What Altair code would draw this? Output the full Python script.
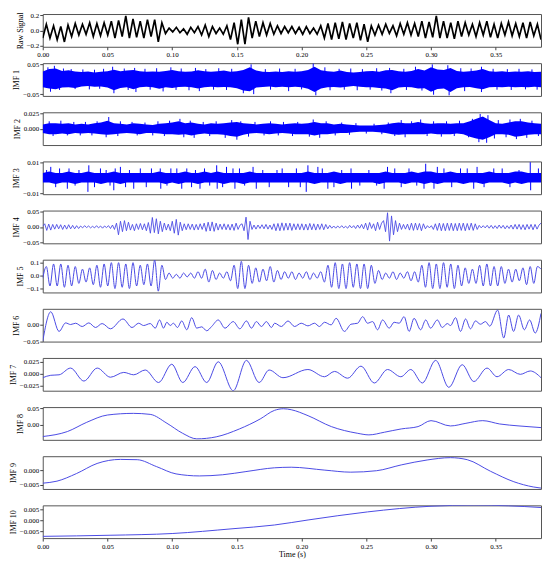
import altair as alt
import pandas as pd

T_END = 0.385
FONT = "Liberation Serif"
X_TICKS = [0.0, 0.05, 0.10, 0.15, 0.20, 0.25, 0.30, 0.35]

# ---------------- Raw signal (successive extrema on a uniform time grid) ----------------
raw_signal = [
    -0.10, 0.08, -0.10, 0.06, -0.12, 0.05, -0.15, 0.07, -0.08, 0.09,
    -0.06, 0.08, -0.05, 0.10, -0.08, 0.09, -0.07, 0.10, -0.06, 0.12,
    -0.10, 0.13, -0.08, 0.19, -0.10, 0.15, -0.09, 0.12, -0.10, 0.14,
    -0.08, 0.14, -0.15, 0.10, -0.04, 0.03, -0.02, 0.04, -0.03, 0.02,
    -0.05, 0.04, -0.03, 0.05, -0.06, 0.07, -0.08, 0.05, -0.04, 0.03,
    -0.05, 0.06, -0.12, 0.10, -0.18, 0.14, -0.18, 0.17, -0.10, 0.12,
    -0.08, 0.10, -0.06, 0.09, -0.05, 0.06, -0.04, 0.05, -0.03, 0.05,
    -0.04, 0.04, -0.05, 0.05, -0.04, 0.03, -0.05, 0.06, -0.10, 0.09,
    -0.12, 0.10, -0.11, 0.11, -0.12, 0.09, -0.10, 0.10, -0.13, 0.08,
    -0.15, 0.06, -0.06, 0.07, -0.05, 0.08, -0.04, 0.06, -0.07, 0.09,
    -0.05, 0.10, -0.06, 0.09, -0.08, 0.12, -0.10, 0.11, -0.09, 0.19,
    -0.10, 0.12, -0.10, 0.10, -0.11, 0.12, -0.08, 0.10, -0.06, 0.08,
    -0.08, 0.10, -0.06, 0.12, -0.09, 0.08, -0.10, 0.09, -0.06, 0.11,
    -0.07, 0.09, -0.08, 0.10, -0.10, 0.11, -0.07, 0.08, -0.12,
]

# ---------------- IMF 1 (envelope of the dense oscillation + protruding peaks) ----------------
imf1_upper = [
    0.026, 0.034, 0.036, 0.028, 0.030, 0.026, 0.024, 0.026, 0.023, 0.025,
    0.027, 0.032, 0.027, 0.029, 0.031, 0.027, 0.025, 0.026, 0.025, 0.028,
    0.031, 0.027, 0.025, 0.026, 0.030, 0.027, 0.025, 0.027, 0.029, 0.025,
    0.027, 0.031, 0.040, 0.029, 0.025, 0.024, 0.026, 0.024, 0.027, 0.025,
    0.027, 0.031, 0.042, 0.030, 0.027, 0.025, 0.029, 0.024, 0.023, 0.024,
    0.027, 0.028, 0.025, 0.030, 0.031, 0.027, 0.025, 0.028, 0.034, 0.029,
    0.040, 0.033, 0.031, 0.038, 0.028, 0.025, 0.027, 0.029, 0.034, 0.027,
    0.025, 0.027, 0.024, 0.026, 0.025, 0.027, 0.024, 0.025,
]
imf1_lower = [
    -0.027, -0.031, -0.034, -0.028, -0.027, -0.029, -0.024, -0.023, -0.025, -0.024,
    -0.028, -0.037, -0.029, -0.027, -0.034, -0.027, -0.025, -0.027, -0.032, -0.027,
    -0.029, -0.026, -0.025, -0.027, -0.031, -0.027, -0.025, -0.027, -0.026, -0.027,
    -0.030, -0.038, -0.040, -0.028, -0.026, -0.024, -0.027, -0.025, -0.027, -0.025,
    -0.027, -0.032, -0.043, -0.031, -0.027, -0.026, -0.028, -0.025, -0.023, -0.025,
    -0.027, -0.027, -0.029, -0.031, -0.037, -0.028, -0.026, -0.027, -0.031, -0.030,
    -0.042, -0.033, -0.031, -0.043, -0.030, -0.027, -0.026, -0.030, -0.034, -0.027,
    -0.026, -0.027, -0.025, -0.027, -0.026, -0.027, -0.025, -0.027,
]
imf1_peak_t = [
    0.004, 0.009, 0.016, 0.022, 0.031, 0.040, 0.047, 0.054, 0.063, 0.071,
    0.079, 0.088, 0.099, 0.107, 0.118, 0.126, 0.136, 0.146, 0.161, 0.172,
    0.183, 0.195, 0.209, 0.218, 0.229, 0.238, 0.247, 0.258, 0.268, 0.279,
    0.288, 0.301, 0.313, 0.323, 0.331, 0.339, 0.348, 0.359, 0.368, 0.378,
    0.006, 0.013, 0.025, 0.036, 0.044, 0.055, 0.066, 0.072, 0.083, 0.093,
    0.103, 0.113, 0.121, 0.132, 0.142, 0.155, 0.163, 0.176, 0.190, 0.200,
    0.211, 0.222, 0.233, 0.243, 0.253, 0.262, 0.269, 0.281, 0.293, 0.302,
    0.314, 0.326, 0.339, 0.351, 0.362, 0.373, 0.382,
]
imf1_peak_v = [
    0.040, 0.045, 0.036, 0.034, 0.033, 0.032, 0.035, 0.042, 0.036, 0.038,
    0.035, 0.037, 0.040, 0.036, 0.038, 0.034, 0.037, 0.035, 0.050, 0.034,
    0.036, 0.035, 0.053, 0.040, 0.035, 0.036, 0.034, 0.037, 0.038, 0.035,
    0.042, 0.050, 0.047, 0.037, 0.036, 0.042, 0.035, 0.034, 0.035, 0.033,
    -0.042, -0.036, -0.033, -0.034, -0.032, -0.047, -0.036, -0.043, -0.035, -0.041,
    -0.036, -0.037, -0.040, -0.035, -0.036, -0.047, -0.050, -0.035, -0.040, -0.034,
    -0.054, -0.037, -0.035, -0.037, -0.035, -0.038, -0.047, -0.036, -0.038, -0.052,
    -0.054, -0.040, -0.043, -0.035, -0.036, -0.034, -0.035,
]

# ---------------- IMF 2 ----------------
imf2_upper = [
    0.007, 0.009, 0.009, 0.008, 0.009, 0.007, 0.008, 0.007, 0.009, 0.010,
    0.013, 0.009, 0.008, 0.007, 0.009, 0.008, 0.007, 0.006, 0.008, 0.009,
    0.010, 0.012, 0.009, 0.010, 0.008, 0.007, 0.009, 0.008, 0.009, 0.010,
    0.011, 0.009, 0.008, 0.007, 0.008, 0.009, 0.008, 0.007, 0.008, 0.009,
    0.008, 0.009, 0.011, 0.009, 0.009, 0.007, 0.008, 0.007, 0.006, 0.005,
    0.005, 0.005, 0.006, 0.007, 0.009, 0.010, 0.009, 0.009, 0.011, 0.009,
    0.008, 0.009, 0.009, 0.008, 0.009, 0.009, 0.012, 0.016, 0.020, 0.014,
    0.009, 0.008, 0.010, 0.012, 0.012, 0.010, 0.009, 0.008,
]
imf2_lower = [
    -0.007, -0.009, -0.009, -0.008, -0.009, -0.007, -0.008, -0.007, -0.008, -0.009,
    -0.010, -0.009, -0.008, -0.007, -0.008, -0.009, -0.007, -0.007, -0.008, -0.009,
    -0.009, -0.010, -0.009, -0.011, -0.009, -0.008, -0.009, -0.009, -0.010, -0.012,
    -0.013, -0.010, -0.008, -0.007, -0.008, -0.009, -0.008, -0.007, -0.008, -0.009,
    -0.009, -0.009, -0.011, -0.009, -0.009, -0.008, -0.007, -0.007, -0.006, -0.005,
    -0.005, -0.005, -0.006, -0.007, -0.009, -0.010, -0.009, -0.009, -0.009, -0.009,
    -0.008, -0.009, -0.009, -0.009, -0.008, -0.009, -0.013, -0.016, -0.018, -0.014,
    -0.009, -0.009, -0.010, -0.013, -0.012, -0.010, -0.009, -0.009,
]
imf2_peak_t = [
    0.005, 0.014, 0.024, 0.033, 0.042, 0.051, 0.060, 0.069, 0.079, 0.089,
    0.098, 0.106, 0.114, 0.124, 0.134, 0.146, 0.153, 0.164, 0.176, 0.186,
    0.197, 0.209, 0.219, 0.231, 0.242, 0.256, 0.267, 0.277, 0.285, 0.292,
    0.302, 0.312, 0.322, 0.332, 0.338, 0.344, 0.352, 0.361, 0.369, 0.378,
    0.008, 0.019, 0.029, 0.038, 0.049, 0.058, 0.073, 0.085, 0.094, 0.109,
    0.117, 0.129, 0.141, 0.150, 0.159, 0.171, 0.182, 0.193, 0.206, 0.214,
    0.226, 0.237, 0.250, 0.262, 0.272, 0.280, 0.297, 0.308, 0.318, 0.329,
    0.337, 0.343, 0.349, 0.358, 0.366, 0.374, 0.383,
]
imf2_peak_v = [
    0.012, 0.013, 0.011, 0.011, 0.012, 0.019, 0.012, 0.011, 0.010, 0.012,
    0.013, 0.016, 0.013, 0.011, 0.012, 0.014, 0.012, 0.011, 0.012, 0.011,
    0.011, 0.015, 0.012, 0.010, 0.009, 0.008, 0.010, 0.014, 0.012, 0.015,
    0.012, 0.012, 0.013, 0.016, 0.024, 0.022, 0.014, 0.015, 0.016, 0.013,
    -0.012, -0.011, -0.011, -0.011, -0.014, -0.012, -0.011, -0.011, -0.012, -0.014,
    -0.015, -0.012, -0.015, -0.018, -0.013, -0.011, -0.011, -0.012, -0.013, -0.015,
    -0.011, -0.010, -0.008, -0.009, -0.012, -0.014, -0.012, -0.013, -0.012, -0.014,
    -0.022, -0.023, -0.016, -0.014, -0.017, -0.015, -0.012,
]

# ---------------- IMF 3 (core band + isolated spikes) ----------------
imf3_upper = [
    0.003, 0.004, 0.003, 0.003, 0.004, 0.003, 0.003, 0.004, 0.003, 0.003,
    0.003, 0.004, 0.003, 0.003, 0.003, 0.003, 0.003, 0.003, 0.004, 0.003,
    0.003, 0.003, 0.004, 0.003, 0.003, 0.004, 0.003, 0.004, 0.003, 0.003,
    0.003, 0.003, 0.004, 0.003, 0.003, 0.003, 0.003, 0.003, 0.003, 0.003,
    0.003, 0.004, 0.003, 0.003, 0.003, 0.004, 0.003, 0.003, 0.003, 0.003,
    0.003, 0.003, 0.003, 0.004, 0.003, 0.003, 0.003, 0.004, 0.003, 0.004,
    0.004, 0.003, 0.003, 0.004, 0.003, 0.003, 0.003, 0.003, 0.003, 0.004,
    0.003, 0.003, 0.003, 0.004, 0.004, 0.003, 0.003, 0.003,
]
imf3_lower = [
    -0.003, -0.003, -0.004, -0.003, -0.003, -0.004, -0.003, -0.003, -0.003, -0.004,
    -0.003, -0.003, -0.004, -0.003, -0.003, -0.003, -0.003, -0.003, -0.003, -0.004,
    -0.003, -0.004, -0.003, -0.003, -0.004, -0.003, -0.003, -0.003, -0.004, -0.003,
    -0.003, -0.004, -0.003, -0.003, -0.003, -0.003, -0.003, -0.003, -0.003, -0.003,
    -0.003, -0.003, -0.004, -0.003, -0.003, -0.003, -0.004, -0.003, -0.003, -0.003,
    -0.003, -0.003, -0.004, -0.003, -0.003, -0.003, -0.004, -0.003, -0.003, -0.004,
    -0.003, -0.004, -0.003, -0.003, -0.003, -0.004, -0.003, -0.003, -0.004, -0.003,
    -0.003, -0.003, -0.004, -0.003, -0.004, -0.003, -0.003, -0.003,
]
imf3_spike_t = [
    0.0062, 0.0190, 0.0203, 0.0349, 0.0356, 0.0446, 0.0549, 0.0560, 0.0600, 0.0703,
    0.0754, 0.0908, 0.0912, 0.1036, 0.1074, 0.1113, 0.1215, 0.1344, 0.1348, 0.1420,
    0.1470, 0.1485, 0.1625, 0.1650, 0.1850, 0.1900, 0.2036, 0.2049, 0.2126, 0.2203,
    0.2382, 0.2386, 0.2638, 0.2664, 0.2946, 0.2959, 0.3023, 0.3049, 0.3228, 0.3330,
    0.3356, 0.3485, 0.3767, 0.3770,
    0.003, 0.010, 0.013, 0.025, 0.028, 0.040, 0.049, 0.052, 0.064, 0.067,
    0.080, 0.084, 0.096, 0.099, 0.115, 0.118, 0.125, 0.129, 0.139, 0.152,
    0.156, 0.170, 0.175, 0.181, 0.196, 0.199, 0.216, 0.225, 0.231, 0.245,
    0.252, 0.258, 0.272, 0.277, 0.283, 0.289, 0.310, 0.316, 0.328, 0.341,
    0.355, 0.361, 0.368, 0.383,
]
imf3_spike_v = [
    0.007, -0.007, 0.006, -0.009, 0.008, 0.006, -0.008, 0.006, 0.007, -0.007,
    0.006, 0.006, -0.007, 0.006, -0.007, 0.006, -0.007, 0.008, -0.007, 0.007,
    0.006, -0.007, 0.007, -0.007, 0.006, -0.006, -0.009, 0.008, 0.007, -0.007,
    0.006, -0.007, -0.007, 0.007, -0.007, 0.009, -0.007, 0.007, 0.006, -0.007,
    0.007, 0.006, 0.010, -0.008,
    0.005, -0.006, 0.006, -0.005, 0.005, -0.006, 0.005, -0.005, -0.006, 0.005,
    -0.006, 0.006, -0.005, 0.006, -0.006, 0.005, 0.006, -0.005, -0.006, 0.006,
    -0.005, 0.005, -0.006, 0.005, 0.006, -0.006, 0.006, -0.006, 0.005, -0.005,
    0.005, -0.005, 0.006, -0.006, 0.006, -0.005, 0.006, -0.006, 0.006, -0.006,
    0.006, -0.006, 0.005, 0.006,
]

# ---------------- IMF 4 (successive extrema on a uniform time grid) ----------------
imf4 = [
    0.002, 0.010, -0.011, 0.009, -0.010, 0.008, -0.007, 0.008, -0.006, 0.007,
    -0.008, 0.006, -0.007, 0.007, -0.006, 0.005, -0.006, 0.004, -0.005, 0.003,
    -0.003, 0.004, -0.002, 0.003, -0.003, 0.002, -0.003, 0.004, -0.003, 0.003,
    -0.004, 0.003, -0.002, 0.004, -0.005, 0.006, -0.008, 0.012, -0.025, 0.018,
    -0.015, 0.020, -0.012, 0.015, -0.010, 0.008, -0.012, 0.010, -0.008, 0.011,
    -0.009, 0.010, -0.012, 0.014, -0.020, 0.030, -0.018, 0.026, -0.022, 0.018,
    -0.015, 0.012, -0.010, 0.009, -0.012, 0.018, -0.020, 0.024, -0.026, 0.015,
    -0.012, 0.010, -0.009, 0.010, -0.008, 0.009, -0.010, 0.008, -0.009, 0.010,
    -0.008, 0.012, -0.014, 0.015, -0.013, 0.016, -0.014, 0.012, -0.010, 0.009,
    -0.008, 0.010, -0.009, 0.008, -0.010, 0.009, -0.011, 0.012, -0.008, 0.006,
    0.010, -0.012, 0.031, -0.040, 0.018, -0.008, 0.006, -0.007, 0.006, -0.005,
    0.007, -0.006, 0.008, -0.007, 0.006, -0.008, 0.010, -0.012, 0.011, -0.012,
    0.013, -0.011, 0.012, -0.010, 0.012, -0.011, 0.010, -0.009, 0.010, -0.009,
    0.010, -0.010, 0.009, -0.010, 0.011, -0.009, 0.010, -0.010, 0.009, -0.008,
    0.010, -0.009, 0.008, -0.006, 0.005, -0.004, 0.003, -0.004, 0.003, -0.003,
    0.004, -0.003, 0.002, -0.004, 0.005, -0.003, 0.004, -0.005, 0.006, -0.004,
    0.008, -0.006, 0.012, -0.010, 0.014, -0.005, 0.010, -0.012, 0.015, -0.008,
    0.012, 0.020, -0.015, 0.045, -0.045, 0.035, -0.025, 0.020, -0.015, 0.012,
    -0.008, 0.008, -0.007, 0.009, -0.010, 0.012, -0.011, 0.012, -0.010, 0.011,
    -0.012, 0.010, -0.006, 0.004, -0.003, 0.004, -0.008, 0.010, -0.011, 0.012,
    -0.012, 0.011, -0.012, 0.012, -0.011, 0.012, -0.012, 0.011, -0.012, 0.012,
    -0.011, 0.012, -0.012, 0.011, -0.010, 0.012, -0.011, 0.010, -0.008, 0.005,
    -0.003, 0.004, -0.003, 0.005, -0.004, 0.005, -0.005, 0.004, -0.005, 0.006,
    -0.004, 0.005, -0.006, 0.004, -0.005, 0.006, -0.007, 0.008, -0.007, 0.008,
    -0.008, 0.007, -0.009, 0.008, -0.007, 0.008, -0.009, 0.008, -0.007, 0.006,
    0.012,
]

# ---------------- IMF 5 (successive extrema on a uniform time grid) ----------------
imf5 = [
    -0.02, 0.07, -0.08, 0.09, -0.08, 0.09, -0.09, 0.08, -0.08, 0.07,
    -0.06, 0.05, -0.05, 0.06, -0.07, 0.08, -0.09, 0.09, -0.08, 0.10,
    -0.10, 0.10, -0.09, 0.09, -0.10, 0.10, -0.08, 0.08, -0.07, 0.09,
    -0.08, 0.12, -0.12, 0.08, -0.03, 0.02, -0.02, 0.01, -0.02, 0.02,
    -0.01, 0.02, -0.02, 0.03, -0.02, 0.05, -0.05, 0.04, -0.03, 0.02,
    -0.02, 0.03, -0.04, 0.08, -0.10, 0.11, -0.10, 0.08, -0.06, 0.06,
    -0.05, 0.05, -0.04, 0.07, -0.05, 0.04, -0.03, 0.03, -0.02, 0.03,
    -0.03, 0.02, -0.02, 0.03, -0.03, 0.02, -0.02, 0.03, -0.05, 0.08,
    -0.09, 0.10, -0.10, 0.09, -0.10, 0.10, -0.09, 0.09, -0.10, 0.09,
    -0.10, 0.08, -0.06, 0.04, -0.03, 0.02, -0.02, 0.03, -0.03, 0.02,
    -0.02, 0.03, -0.04, 0.03, -0.05, 0.08, -0.09, 0.10, -0.10, 0.09,
    -0.10, 0.10, -0.09, 0.09, -0.10, 0.08, -0.08, 0.06, -0.06, 0.05,
    -0.06, 0.08, -0.08, 0.09, -0.08, 0.07, -0.08, 0.07, -0.06, 0.05,
    -0.05, 0.05, -0.04, 0.06, -0.07, 0.07, -0.06, 0.07, 0.05,
]

# ---------------- IMF 6 ----------------
imf6_t = [
    0.0000, 0.0062, 0.0126, 0.0177, 0.0215, 0.0254, 0.0305, 0.0356, 0.0408, 0.0459,
    0.0523, 0.0620, 0.0690, 0.0741, 0.0779, 0.0831, 0.0869, 0.0903, 0.0933, 0.0959,
    0.0985, 0.1010, 0.1041, 0.1074, 0.1113, 0.1151, 0.1190, 0.1228, 0.1267, 0.1305,
    0.1356, 0.1408, 0.1472, 0.1523, 0.1574, 0.1613, 0.1651, 0.1690, 0.1728, 0.1767,
    0.1792, 0.1844, 0.1895, 0.1946, 0.1997, 0.2049, 0.2100, 0.2138, 0.2177, 0.2228,
    0.2267, 0.2331, 0.2382, 0.2433, 0.2472, 0.2510, 0.2549, 0.2587, 0.2626, 0.2677,
    0.2715, 0.2754, 0.2792, 0.2831, 0.2869, 0.2920, 0.2959, 0.2997, 0.3049, 0.3087,
    0.3126, 0.3151, 0.3190, 0.3228, 0.3267, 0.3305, 0.3344, 0.3382, 0.3421, 0.3454,
    0.3515, 0.3562, 0.3600, 0.3638, 0.3677, 0.3721, 0.3762, 0.3805, 0.3850,
]
imf6_v = [
    -0.050, 0.040, -0.020, 0.006, 0.001, 0.005, -0.005, 0.006, -0.008, 0.004,
    -0.012, 0.018, -0.008, 0.005, -0.002, 0.004, -0.010, 0.015, -0.010, 0.008,
    -0.002, 0.005, -0.008, 0.012, -0.015, 0.022, -0.010, -0.006, -0.018, -0.005,
    0.015, -0.010, 0.010, -0.012, 0.012, -0.010, 0.010, -0.005, 0.010, -0.008,
    0.005, -0.005, 0.012, -0.005, 0.005, -0.003, 0.005, -0.005, 0.008, 0.000,
    0.020, -0.020, 0.002, 0.005, 0.025, 0.005, 0.010, -0.015, 0.015, -0.010,
    0.008, 0.005, 0.025, -0.020, 0.020, -0.015, 0.015, -0.010, 0.015, -0.008,
    0.004, -0.002, 0.022, -0.020, 0.018, -0.012, 0.012, 0.002, 0.010, -0.004,
    0.045, -0.040, 0.030, -0.020, 0.030, -0.015, 0.015, -0.025, 0.035,
]

# ---------------- IMF 7 ----------------
imf7_t = [
    0.0000, 0.0062, 0.0126, 0.0215, 0.0318, 0.0421, 0.0523, 0.0626, 0.0703, 0.0792,
    0.0895, 0.0997, 0.1082, 0.1177, 0.1267, 0.1356, 0.1472, 0.1574, 0.1672, 0.1749,
    0.1856, 0.2049, 0.2177, 0.2254, 0.2356, 0.2459, 0.2562, 0.2664, 0.2767, 0.2844,
    0.2933, 0.3036, 0.3138, 0.3241, 0.3331, 0.3433, 0.3510, 0.3600, 0.3690, 0.3767,
    0.3850,
]
imf7_v = [
    -0.008, -0.003, -0.002, 0.012, -0.015, 0.012, -0.007, 0.003, -0.002, 0.008,
    -0.018, 0.020, -0.018, 0.015, -0.018, 0.025, -0.035, 0.028, -0.018, 0.008,
    -0.008, 0.009, -0.006, 0.005, -0.009, 0.016, -0.019, 0.009, -0.006, 0.009,
    -0.019, 0.028, -0.028, 0.019, -0.016, 0.012, -0.006, 0.009, -0.001, 0.006,
    -0.008,
]

# ---------------- IMF 8 ----------------
imf8_t = [0.000, 0.019, 0.034, 0.050, 0.070, 0.083, 0.096, 0.108, 0.119, 0.134,
          0.152, 0.168, 0.179, 0.186, 0.192, 0.205, 0.223, 0.243, 0.252, 0.264,
          0.277, 0.290, 0.300, 0.315, 0.327, 0.340, 0.353, 0.368, 0.385]
imf8_v = [-0.035, -0.020, 0.008, 0.030, 0.035, 0.032, 0.005, -0.025, -0.042, -0.036,
          -0.012, 0.018, 0.044, 0.049, 0.046, 0.028, -0.005, -0.025, -0.030, -0.022,
          -0.012, -0.005, 0.013, -0.003, 0.005, 0.013, 0.003, -0.003, -0.008]

# ---------------- IMF 9 ----------------
imf9_t = [0.000, 0.011, 0.026, 0.042, 0.060, 0.073, 0.088, 0.103, 0.121, 0.139,
          0.157, 0.179, 0.192, 0.218, 0.238, 0.258, 0.277, 0.297, 0.315, 0.328,
          0.346, 0.364, 0.379, 0.385]
imf9_v = [-0.0045, -0.0038, -0.0012, 0.0023, 0.0037, 0.0036, 0.0012, -0.0013, -0.0020, -0.0016,
          -0.0005, 0.0008, 0.0010, 0.0000, -0.0007, -0.0002, 0.0018, 0.0035, 0.0043, 0.0036,
          -0.0004, -0.0040, -0.0058, -0.0062]

# ---------------- IMF 10 ----------------
imf10_t = [0.000, 0.052, 0.100, 0.147, 0.179, 0.205, 0.251, 0.300, 0.333, 0.360, 0.385]
imf10_v = [-0.0072, -0.0067, -0.0059, -0.0037, -0.0020, 0.0003, 0.0040, 0.0066, 0.0071, 0.0068, 0.0060]


def grid(n):
    return [T_END * i / (n - 1) for i in range(n)]


W = 502
H = 33
BLUE = "#0000ff"
LINE_BLUE = "#4b4be4"


def x_enc(show, title=None):
    scale = alt.Scale(domain=[0, T_END], nice=False, zero=False)
    if show:
        return alt.X("t:Q", scale=scale, title=title,
                     axis=alt.Axis(values=X_TICKS, format=".2f"))
    return alt.X("t:Q", scale=scale, axis=None)


def y_scale(dom):
    return alt.Scale(domain=dom, nice=False, zero=False)


def y_axis(name, ticks, fmt):
    return alt.Axis(values=ticks, format=fmt, title=name)


def line_panel(t, v, name, dom, ticks, fmt, color, width, interp="linear",
               show_x=False, xtitle=None):
    df = pd.DataFrame({"t": t, "v": v})
    return alt.Chart(df).mark_line(
        color=color, strokeWidth=width, interpolate=interp, clip=True
    ).encode(
        x=x_enc(show_x, xtitle),
        y=alt.Y("v:Q", scale=y_scale(dom), axis=y_axis(name, ticks, fmt)),
    ).properties(width=W, height=H)


def band_panel(upper, lower, name, dom, ticks, fmt, spikes):
    df = pd.DataFrame({"t": grid(len(upper)), "hi": upper, "lo": lower})
    band = alt.Chart(df).mark_area(color=BLUE, opacity=1, clip=True).encode(
        x=x_enc(False),
        y=alt.Y("hi:Q", scale=y_scale(dom), axis=y_axis(name, ticks, fmt)),
        y2="lo:Q",
    )
    sdf = pd.DataFrame({"t": spikes[0], "v": spikes[1]})
    rule = alt.Chart(sdf).mark_rule(color=BLUE, strokeWidth=1.0, clip=True).encode(
        x=x_enc(False),
        y=alt.Y("v:Q", scale=y_scale(dom)),
        y2=alt.datum(0),
    )
    return alt.layer(band, rule).properties(width=W, height=H)


panels = [
    line_panel(grid(len(raw_signal)), raw_signal, "Raw Signal", [-0.213, 0.213],
               [-0.2, 0.0, 0.2], ".1f", "black", 1.7, show_x=True),
    band_panel(imf1_upper, imf1_lower, "IMF 1", [-0.056, 0.054], [-0.05, 0.0, 0.05], ".2f",
               (imf1_peak_t, imf1_peak_v)),
    band_panel(imf2_upper, imf2_lower, "IMF 2", [-0.0267, 0.0267], [0.0, 0.025], ".3f",
               (imf2_peak_t, imf2_peak_v)),
    band_panel(imf3_upper, imf3_lower, "IMF 3", [-0.0105, 0.0105], [-0.01, 0.0, 0.01], ".2f",
               (imf3_spike_t, imf3_spike_v)),
    line_panel(grid(len(imf4)), imf4, "IMF 4", [-0.052, 0.052],
               [-0.05, 0.0, 0.05], ".2f", LINE_BLUE, 0.9),
    line_panel(grid(len(imf5)), imf5, "IMF 5", [-0.13, 0.123],
               [-0.1, 0.0, 0.1], ".1f", LINE_BLUE, 1.0, interp="monotone"),
    line_panel(imf6_t, imf6_v, "IMF 6", [-0.051, 0.049],
               [-0.05, 0.0], ".2f", LINE_BLUE, 1.0, interp="monotone"),
    line_panel(imf7_t, imf7_v, "IMF 7", [-0.035, 0.033],
               [-0.025, 0.0, 0.025], ".3f", LINE_BLUE, 1.0, interp="monotone"),
    line_panel(imf8_t, imf8_v, "IMF 8", [-0.045, 0.054],
               [0.0, 0.05], ".2f", LINE_BLUE, 1.0, interp="monotone"),
    line_panel(imf9_t, imf9_v, "IMF 9", [-0.0065, 0.0048],
               [-0.005, 0.0], ".3f", LINE_BLUE, 1.0, interp="monotone"),
    line_panel(imf10_t, imf10_v, "IMF 10", [-0.008, 0.007],
               [-0.005, 0.0, 0.005], ".3f", LINE_BLUE, 1.0, interp="monotone",
               show_x=True, xtitle="Time (s)"),
]

chart = alt.vconcat(*panels, spacing=16.5, bounds="flush").properties(
    padding={"left": 0, "top": 0, "right": 0, "bottom": 0}
).configure_view(
    stroke="#555555", strokeWidth=1
).configure_axis(
    labelFont=FONT, titleFont=FONT, labelFontSize=7, titleFontSize=8,
    titleFontWeight="normal", labelColor="black", titleColor="black",
    tickColor="#444444", tickSize=3, domain=False, grid=False,
    labelPadding=1, titlePadding=2, labelFlush=False,
)

chart.save("out.html", embed_options={"renderer": "svg", "actions": False})
